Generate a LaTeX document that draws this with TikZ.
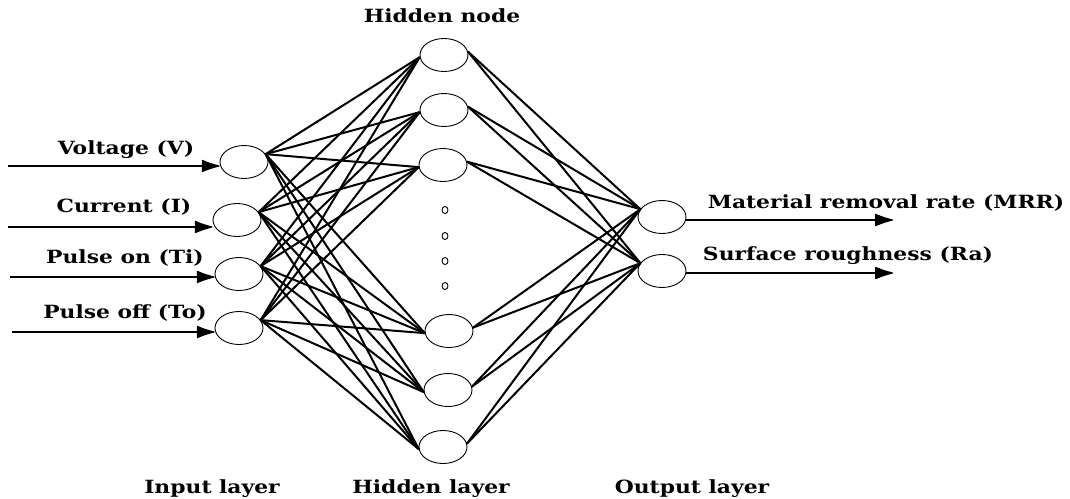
\documentclass[tikz,border=0pt]{standalone}
\usepackage{fontspec}
\setmainfont{DejaVu Serif}[FakeStretch=1.2]
\usetikzlibrary{shapes.geometric,arrows.meta}
\begin{document}
\begin{tikzpicture}[x=1pt,y=-1pt,
  neuron/.style={draw,ellipse,line width=0.9pt,minimum width=48pt,minimum height=33pt,inner sep=0pt},
  link/.style={line width=2pt},
  signal/.style={line width=1.2pt,-{Latex[round,length=20pt,width=13pt]}},
  lbl/.style={font=\fontsize{18.2}{20}\selectfont\bfseries,inner sep=0pt,anchor=base},
  dotmark/.style={draw,ellipse,line width=0.9pt,minimum width=6pt,minimum height=7pt,inner sep=0pt}]
\useasboundingbox (0,0) rectangle (1070,498);
\fill[white] (0,0) rectangle (1070,498);

% input layer
\node[neuron] (i1) at (244,162) {};
\node[neuron] (i2) at (237,220) {};
\node[neuron] (i3) at (239,274) {};
\node[neuron] (i4) at (239,328) {};

% hidden layer
\node[neuron] (h1) at (444,55) {};
\node[neuron] (h2) at (444,110) {};
\node[neuron] (h3) at (443,165) {};
\node[neuron] (h4) at (449,331) {};
\node[neuron] (h5) at (448,390) {};
\node[neuron] (h6) at (443,447) {};
\foreach \y [count=\k] in {210,236,261,286}
  \node[dotmark] (d\k) at (445,\y) {};

% output layer
\node[neuron] (o1) at (662,217) {};
\node[neuron] (o2) at (662,271) {};

% weights: input -> hidden
\foreach \i in {1,...,4}
  \foreach \h in {1,...,6}
    \draw[link] (i\i.20) -- (h\h.185);
% weights: hidden -> output
\foreach \h in {1,...,6}
  \foreach \o in {1,2}
    \draw[link] (h\h.8) -- (o\o.160);

% incoming signals
\coordinate (s1) at (8,166);
\coordinate (s2) at (8,227);
\coordinate (s3) at (10,277);
\coordinate (s4) at (12,332);
\foreach \i in {1,...,4}
  \draw[signal] (s\i) -- (i\i.west |- s\i);

% outgoing signals
\coordinate (t1) at (893,220);
\coordinate (t2) at (893,273);
\foreach \o in {1,2}
  \draw[signal] (o\o.east |- t\o) -- (t\o);

% labels
\node[lbl] (lv) at (126,154) {Voltage (V)};
\node[lbl] (lc) at (124,212) {Current (I)};
\node[lbl] (lon) at (125,263) {Pulse on (Ti)};
\node[lbl] (loff) at (125,318) {Pulse off (To)};
\node[lbl] (lmrr) at (886,208) {Material removal rate (MRR)};
\node[lbl] (lra) at (848,260) {Surface roughness (Ra)};
\node[lbl] (lhn) at (442,22) {Hidden node};
\node[lbl] (lil) at (212,493) {Input layer};
\node[lbl] (lhl) at (431,493) {Hidden layer};
\node[lbl] (lol) at (692,493) {Output layer};
\end{tikzpicture}
\end{document}
